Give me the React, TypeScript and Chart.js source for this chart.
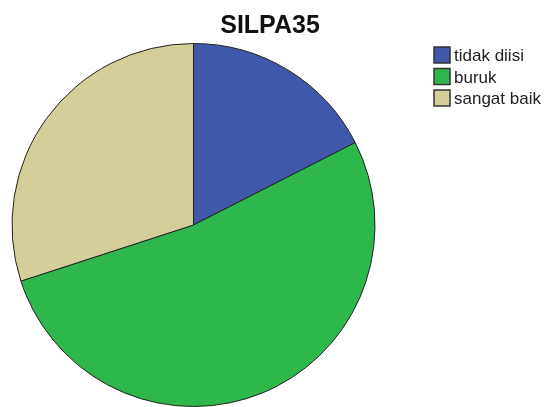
import React, { useEffect, useRef } from "react";
import { Chart, registerables } from "chart.js";

Chart.register(...registerables);

const chartTitle = "SILPA35";
const categories = ["tidak diisi", "buruk", "sangat baik"];
const counts = [7, 21, 12];
const colors = ["#3F58AA", "#2EB84C", "#D4CF98"];

const customDecor = {
  id: "customDecor",
  afterDraw(chart: any) {
    const ctx = chart.ctx;
    ctx.save();
    ctx.fillStyle = "#111";
    ctx.font = "bold 25px 'Liberation Sans', Arial, sans-serif";
    ctx.textAlign = "center";
    ctx.textBaseline = "alphabetic";
    ctx.fillText(chartTitle, 270, 33);

    ctx.font = "17px 'Liberation Sans', Arial, sans-serif";
    ctx.textAlign = "left";
    categories.forEach((label, i) => {
      const y = 47 + i * 21.5;
      ctx.fillStyle = colors[i];
      ctx.fillRect(434, y, 16, 16);
      ctx.strokeStyle = "#333";
      ctx.lineWidth = 1.5;
      ctx.strokeRect(434, y, 16, 16);
      ctx.fillStyle = "#222";
      ctx.fillText(label, 454, y + 14);
    });
    ctx.restore();
  },
};

export default function App() {
  const ref = useRef<HTMLCanvasElement | null>(null);
  useEffect(() => {
    document.body.style.margin = "0";
    const chart = new Chart(ref.current as HTMLCanvasElement, {
      type: "pie",
      data: {
        labels: categories,
        datasets: [
          {
            data: counts,
            backgroundColor: colors,
            borderColor: "#222",
            borderWidth: 1,
          },
        ],
      },
      options: {
        responsive: false,
        animation: false,
        layout: { padding: { left: 11, top: 43, right: 170, bottom: 0 } },
        plugins: {
          legend: { display: false },
          title: { display: false },
          tooltip: { enabled: false },
        },
      },
      plugins: [customDecor],
    });
    return () => chart.destroy();
  }, []);
  return (
    <div style={{ position: "absolute", left: 0, top: 0, width: 546, height: 407 }}>
      <canvas ref={ref} width={546} height={407} />
    </div>
  );
}
